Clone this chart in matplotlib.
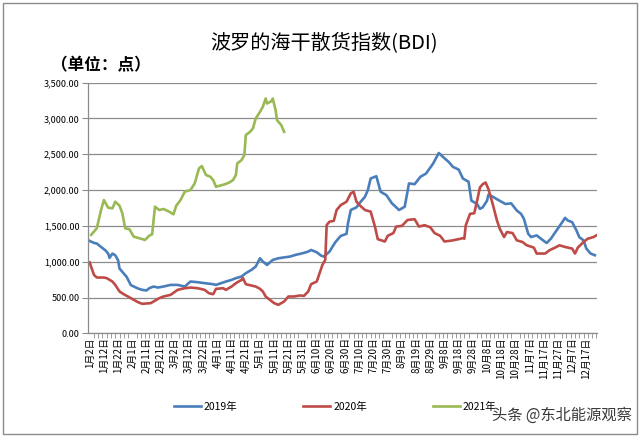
import matplotlib
matplotlib.use("Agg")
import matplotlib.pyplot as plt
from matplotlib.patches import Rectangle
from matplotlib.ticker import FuncFormatter, MultipleLocator

plt.rcParams['font.family'] = ['Noto Sans CJK SC', 'DejaVu Sans']

# x-axis labels: one every 10 days, starting at 1月2日 (day 0)
tick_labels = ["1月2日", "1月12日", "1月22日", "2月1日", "2月11日", "2月21日",
               "3月2日", "3月12日", "3月22日", "4月1日", "4月11日", "4月21日",
               "5月1日", "5月11日", "5月21日", "5月31日", "6月10日", "6月20日",
               "6月30日", "7月10日", "7月20日", "7月30日", "8月9日", "8月19日",
               "8月29日", "9月8日", "9月18日", "9月28日", "10月8日", "10月18日",
               "10月28日", "11月7日", "11月17日", "11月27日", "12月7日", "12月17日"]

# BDI readings (day index since 1月2日, index value)
days_2019 = [0, 3, 5, 8, 11, 13, 14, 16, 18, 20, 21, 24, 26, 29, 34, 37, 40, 42,
             45, 48, 52, 57, 62, 67, 71, 76, 81, 87, 89, 96, 100, 103, 107, 110,
             114, 117, 120, 122, 125, 129, 133, 136, 141, 145, 150, 154, 156, 160,
             163, 165, 169, 173, 176, 177, 181, 182, 184, 188, 190, 194, 196, 198,
             202, 205, 209, 213, 215, 218, 222, 225, 229, 233, 237, 242, 246, 249,
             253, 256, 260, 263, 267, 269, 273, 275, 277, 280, 281, 284, 288, 293,
             297, 301, 304, 306, 309, 311, 315, 318, 322, 325, 329, 333, 335, 337,
             340, 343, 345, 348, 350, 353, 356]
bdi_2019 = [1290, 1262, 1254, 1206, 1160, 1114, 1053, 1114, 1090, 1021, 905, 835,
            789, 673, 626, 607, 598, 630, 653, 639, 653, 676, 676, 653, 723, 714,
            700, 686, 676, 723, 746, 770, 793, 839, 886, 932, 1048, 1002, 955, 1025,
            1048, 1057, 1071, 1095, 1118, 1141, 1164, 1132, 1086, 1071, 1141, 1270,
            1340, 1361, 1389, 1537, 1722, 1759, 1815, 1907, 2000, 2162, 2194, 1977,
            1931, 1815, 1778, 1722, 1768, 2093, 2083, 2185, 2231, 2370, 2518, 2463,
            2393, 2324, 2287, 2162, 2116, 1852, 1806, 1737, 1760, 1852, 1935, 1908,
            1861, 1806, 1815, 1714, 1668, 1598, 1391, 1344, 1367, 1321, 1261, 1321,
            1437, 1552, 1612, 1575, 1552, 1437, 1344, 1298, 1183, 1114, 1090]

days_2020 = [0, 1, 3, 5, 10, 12, 16, 18, 21, 24, 29, 34, 37, 43, 45, 49, 52, 57,
             62, 67, 71, 76, 81, 84, 87, 89, 94, 96, 100, 103, 107, 108, 110, 114,
             117, 120, 122, 124, 127, 130, 133, 135, 137, 140, 144, 148, 151, 154,
             156, 160, 162, 164, 166, 167, 169, 172, 174, 177, 181, 184, 186, 188,
             190, 194, 198, 201, 203, 208, 210, 214, 216, 220, 224, 229, 232, 236,
             240, 243, 247, 250, 255, 260, 263, 264, 265, 268, 271, 273, 275, 277,
             279, 281, 284, 287, 289, 292, 294, 298, 301, 305, 308, 313, 315, 321,
             324, 328, 331, 335, 340, 342, 344, 348, 351, 355, 357]
bdi_2020 = [990, 930, 816, 779, 779, 770, 723, 676, 584, 546, 491, 435, 412, 421,
            444, 491, 514, 537, 607, 630, 639, 630, 607, 560, 546, 621, 630, 607,
            653, 700, 746, 770, 686, 667, 653, 621, 584, 514, 467, 421, 398, 421,
            444, 514, 514, 528, 523, 584, 686, 723, 839, 955, 1025, 1513, 1559, 1570,
            1722, 1792, 1838, 1954, 1977, 1838, 1792, 1722, 1699, 1491, 1315, 1282,
            1361, 1400, 1491, 1500, 1583, 1593, 1491, 1510, 1481, 1400, 1361, 1282,
            1295, 1315, 1329, 1321, 1506, 1668, 1677, 1852, 2037, 2083, 2106, 2014,
            1806, 1575, 1460, 1344, 1414, 1400, 1298, 1275, 1229, 1197, 1114, 1114,
            1160, 1197, 1229, 1206, 1183, 1114, 1197, 1275, 1321, 1344, 1367]

days_2021 = [1, 3, 5, 8, 10, 13, 16, 18, 21, 23, 25, 28, 31, 35, 39, 42, 44, 46,
             49, 52, 56, 59, 61, 64, 67, 71, 74, 77, 79, 82, 85, 87, 89, 95, 98,
             101, 103, 104, 107, 109, 110, 113, 115, 117, 120, 122, 124, 125, 128,
             129, 131, 132, 135, 137]
bdi_2021 = [1374, 1420, 1467, 1722, 1861, 1755, 1745, 1838, 1782, 1676, 1467, 1453,
            1350, 1327, 1304, 1364, 1383, 1769, 1722, 1736, 1699, 1662, 1782, 1861,
            1978, 2001, 2094, 2303, 2335, 2210, 2187, 2140, 2047, 2080, 2103, 2140,
            2210, 2373, 2419, 2489, 2768, 2814, 2861, 3000, 3093, 3163, 3279, 3209,
            3242, 3279, 3116, 2977, 2907, 2814]

fig = plt.figure(figsize=(6.4, 4.37), dpi=100)
ax = fig.add_axes([88 / 640, 1 - 333.3 / 437, (597 - 88) / 640, (333.3 - 82.7) / 437])

l1, = ax.plot(days_2019, bdi_2019, color='#4a7ebb', lw=1.9, label='2019年')
l2, = ax.plot(days_2020, bdi_2020, color='#be4b48', lw=1.9, label='2020年')
l3, = ax.plot(days_2021, bdi_2021, color='#98b954', lw=1.9, label='2021年')

ax.set_xlim(-1.2, 357.5)
ax.set_ylim(0, 3500)
ax.yaxis.set_major_locator(MultipleLocator(500))
ax.yaxis.set_major_formatter(FuncFormatter(lambda v, p: f"{v:,.2f}"))
ax.grid(axis='y', color='#8c8c8c', lw=0.9)
ax.set_axisbelow(True)

ax.set_xticks(range(0, 360, 10))
ax.set_xticklabels(tick_labels, rotation=90, fontsize=7)
ax.xaxis.set_minor_locator(MultipleLocator(3))
ax.tick_params(axis='x', which='major', length=0, pad=3)
ax.tick_params(axis='x', which='minor', length=3.5, color='#8c8c8c', direction='out')
ax.tick_params(axis='y', length=4, color='#8c8c8c', labelsize=6.5, pad=2)

for s in ['top', 'right']:
    ax.spines[s].set_visible(False)
for s in ['left', 'bottom']:
    ax.spines[s].set_color('#8c8c8c')
    ax.spines[s].set_linewidth(0.9)

fig.text(324 / 640, 1 - 43 / 437, "波罗的海干散货指数(BDI)", fontsize=14.5,
         fontweight='medium', ha='center', va='center')
fig.text(51 / 640, 1 - 65 / 437, "（单位：点）", fontsize=12, fontweight='bold',
         ha='left', va='center')

fig.legend(handles=[l1, l2, l3], loc='center', bbox_to_anchor=(335 / 640, 1 - 407 / 437),
           ncol=3, frameon=False, fontsize=7.5, handlelength=2.6, columnspacing=6.3,
           handletextpad=0.3)

fig.text(492 / 640, 1 - 415 / 437, "头条 @东北能源观察", fontsize=11,
         color='#3a3a3a', ha='left', va='center')

fig.patches.append(Rectangle((0.004, 0.008), 0.992, 0.986, transform=fig.transFigure,
                             fill=False, edgecolor='#8c8c8c', lw=1))

fig.savefig("out.png", dpi=100)
